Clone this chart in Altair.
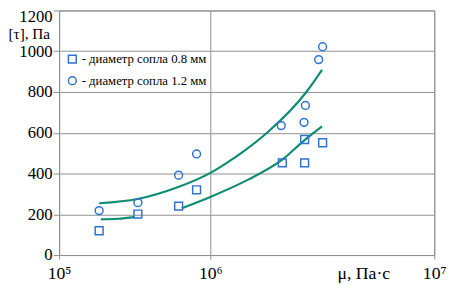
import altair as alt
import pandas as pd

FONT = "Liberation Serif"
BLUE = "#2f72d2"
TEAL = "#0f8c73"
GRID = "#8f8f8f"

series_labels = ["- диаметр сопла 0.8 мм", "- диаметр сопла 1.2 мм"]

# measured points
mu_08 = [1.84e5, 3.32e5, 6.17e5, 8.11e5, 2.99e6, 4.2e6, 4.2e6, 5.52e6]
tau_08 = [119, 201, 240, 320, 452, 452, 567, 551]
mu_12 = [1.84e5, 3.32e5, 6.17e5, 8.11e5, 2.94e6, 4.16e6, 4.25e6, 5.2e6, 5.52e6]
tau_12 = [218, 257, 392, 496, 635, 651, 734, 959, 1022]

# trend curves
curve_12_mu = [1.84e5, 3.31e5, 6.01e5, 1.0e6, 1.27e6, 1.71e6, 2.37e6, 4.31e6, 5.47e6]
curve_12_tau = [254, 275, 331, 403, 450, 516, 600, 800, 909]
curve_08a_mu = [1.89e5, 2.45e5, 3.16e5]
curve_08a_tau = [175, 178, 186]
curve_08b_mu = [6.48e5, 1.0e6, 1.79e6, 2.97e6, 4.2e6, 5.47e6]
curve_08b_tau = [230, 285, 371, 467, 564, 631]

x_domain = [1e5, 3.02e7]
x_ticks = [1e5, 1e6, 3.02e7]
x_tick_labels = ["10⁵", "10⁶", "10⁷"]
y_ticks = [0, 200, 400, 600, 800, 1000, 1200]

pts = pd.DataFrame({
    "mu": mu_08 + mu_12,
    "tau": tau_08 + tau_12,
    "series": [series_labels[0]] * len(mu_08) + [series_labels[1]] * len(mu_12),
})
curves = pd.DataFrame({
    "mu": curve_12_mu + curve_08a_mu + curve_08b_mu,
    "tau": curve_12_tau + curve_08a_tau + curve_08b_tau,
    "seg": ["u"] * len(curve_12_mu) + ["a"] * len(curve_08a_mu) + ["b"] * len(curve_08b_mu),
})

label_expr = (
    f"datum.value < 3e5 ? '{x_tick_labels[0]}' : "
    f"datum.value < 3e6 ? '{x_tick_labels[1]}' : '{x_tick_labels[2]}'"
)

x_enc = alt.X(
    "mu:Q",
    scale=alt.Scale(type="log", domain=x_domain, nice=False),
    axis=alt.Axis(
        values=x_ticks, labelExpr=label_expr, grid=True, tickSize=4,
        labelPadding=6, labelFontSize=18, labelFlush=False, labelOverlap=False,
        title="μ, Па·с", titleX=283, titleY=19, titleAlign="left",
        titleBaseline="middle", titleFontSize=18, titleFontWeight="normal",
    ),
)
y_enc = alt.Y(
    "tau:Q",
    scale=alt.Scale(domain=[0, 1200], nice=False),
    axis=alt.Axis(
        values=y_ticks, format="d", grid=True, tickSize=6, labelPadding=1,
        labelFontSize=17,
        labelOffset={"condition": {"test": "datum.value >= 1200", "value": 6}, "value": 0},
        title="[τ], Па", titleAngle=0, titleAlign="left", titleBaseline="middle",
        titleX=-52, titleY=23.5, titleFontSize=15.5, titleFontWeight="normal",
    ),
)

lines = alt.Chart(curves).mark_line(
    color=TEAL, strokeWidth=2.2, interpolate="monotone"
).encode(x=x_enc, y=y_enc, detail="seg:N", order="mu:Q")

points = alt.Chart(pts).mark_point(
    filled=False, color=BLUE, strokeWidth=1.5, size=64, opacity=1
).encode(
    x=x_enc,
    y=y_enc,
    shape=alt.Shape(
        "series:N",
        scale=alt.Scale(domain=series_labels, range=["square", "circle"]),
        legend=alt.Legend(
            title=None, orient="none", legendX=7, legendY=43, padding=0,
            labelFont=FONT, labelFontSize=13, labelColor="black", labelLimit=400,
            symbolStrokeColor=BLUE, symbolStrokeWidth=1.5, symbolOpacity=1,
            symbolSize=64, rowPadding=7, labelOffset=3,
        ),
    ),
)

chart = alt.layer(lines, points).properties(
    width=382, height=249,
    autosize=alt.AutoSizeParams(type="none"),
    padding={"left": 52, "top": 0, "right": 14, "bottom": 28},
).configure_view(
    stroke=GRID, strokeWidth=1
).configure_axis(
    domainColor=GRID, tickColor=GRID, gridColor=GRID, gridWidth=1,
    labelColor="black", titleColor="black", labelFont=FONT, titleFont=FONT,
)

chart.save("out.html", embed_options={"renderer": "svg", "actions": False})
